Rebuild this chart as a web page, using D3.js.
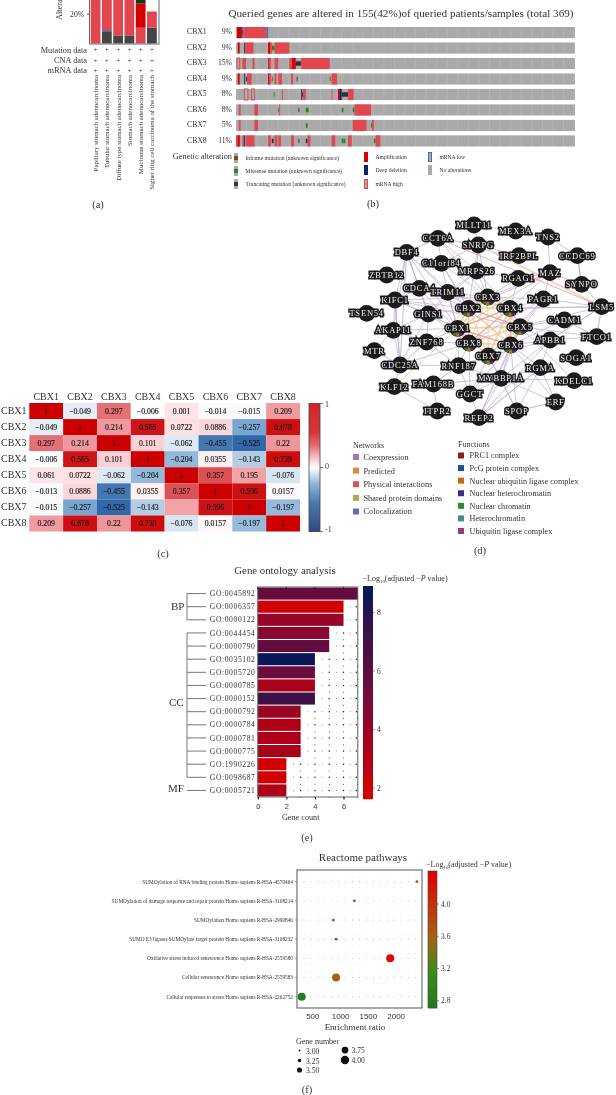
<!DOCTYPE html>
<html>
<head>
<meta charset="utf-8">
<script src="https://cdn.jsdelivr.net/npm/d3@7"></script>
<style>
	html, body { margin: 0; padding: 0; background: #fff; overflow: hidden; }
	svg { display: block; font-family: "Liberation Serif", serif; filter: blur(0.3px); }
	text { fill: #333; }
</style>
</head>
<body>
<svg id="fig" width="616" height="1095"></svg>
<script>
// (a) cancer types, stacked alteration frequency
var cancerTypes = ["Papillary stomach adenocarcinoma", "Tubular stomach adenocarcinoma", "Diffuse type stomach adenocarcinoma", "Stomach adenocarcinoma", "Mucinous stomach adenocarcinoma", "Signet ring cell carcinoma of the stomach"];
var dataRows = ["Mutation data", "CNA data", "mRNA data"];
var stackTypes = ["mutation", "deep", "high", "amp", "missense"];
var stackMutation = [0, 8, 5.5, 5.5, 0, 10.7];
var stackDeep = [0, 1, 0, 0, 0, 0];
var stackHigh = [30, 21, 24.5, 24.5, 10.7, 11];
var stackAmp = [0, 0, 0, 0, 16.5, 0];
var stackMissense = [0, 0, 0, 0, 3, 0];

// (b) oncoprint, segments are [type, first sample, last sample]
var genes = ["CBX1", "CBX2", "CBX3", "CBX4", "CBX5", "CBX6", "CBX7", "CBX8"];
var genePct = ["9%", "9%", "15%", "9%", "8%", "8%", "5%", "11%"];
var totalSamples = 369;
var printSegments = [
	[["amp",1,6],["deep",6,7],["trunc",7,8],["high",8,33],["low",33,35]],
	[["amp",2,4],["deep",9,10],["high",10,19],["high",35,39],["amp",35,37],["miss",39,42],["high",42,58]],
	[["edge",1,4],["high",7,11],["high",18,20],["amp",35,36],["high",36,38],["high",42,46],["high",58,61],["amp",61,65],["trunc",65,71],["high",71,102]],
	[["amp",2,4],["deep",9,10],["trunc",11,12],["high",12,17],["high",35,38],["amp",35,36],["miss",39,40],["high",42,44],["high",46,50],["high",60,62],["trunc",66,67],["miss",102,103],["high",104,110]],
	[["edge",9,13],["edge",17,20],["miss",41,42],["high",50,51],["deep",71,72],["trunc",72,73],["high",73,76],["high",104,105],["amp",111,113],["deep",113,115],["trunc",115,122],["high",122,128]],
	[["high",3,5],["high",20,24],["miss",46,47],["high",47,48],["trunc",68,69],["miss",76,79],["miss",115,117],["miss",127,129],["high",129,147]],
	[["high",3,5],["high",20,24],["miss",76,78],["high",127,142],["miss",147,148],["high",148,150]],
	[["high",0,4],["amp",2,4],["high",7,9],["deep",9,10],["high",11,20],["high",35,38],["trunc",39,41],["high",42,45],["high",46,49],["high",60,63],["trunc",68,69],["trunc",76,78],["high",78,81],["high",104,108],["miss",115,117],["miss",117,119],["high",122,126],["miss",150,152],["high",152,157]]
];
var alterKeys = ["inframe", "miss", "trunc", "amp", "deep", "high", "low", "none"];
var alterLabels = ["Inframe mutation (unknown significance)", "Missense mutation (unknown significance)", "Truncating mutation (unknown significance)", "Amplification", "Deep deletion", "mRNA high", "mRNA low", "No alterations"];

// (c) correlation matrix, fill value and printed label kept apart
var corrValues = [
	[1, -0.049, 0.297, -0.006, 0.061, -0.014, -0.015, 0.209],
	[-0.049, 1, 0.214, 0.565, 0.0722, 0.0886, -0.257, 0.678],
	[0.297, 0.214, 1, 0.101, -0.062, -0.455, -0.525, 0.22],
	[-0.006, 0.565, 0.101, 1, -0.204, 0.0355, -0.143, 0.739],
	[0.061, 0.0722, -0.062, -0.204, 1, 0.357, 0.195, -0.076],
	[-0.013, 0.0886, -0.455, 0.0355, 0.357, 1, 0.596, 0.0157],
	[-0.015, -0.257, -0.525, -0.143, 0.195, 0.596, 1, -0.197],
	[0.209, 0.678, 0.22, 0.739, -0.076, 0.0157, -0.197, 1]
];
var corrLabels = [
	["1", "−0.049", "0.297", "−0.006", "0.001", "−0.014", "−0.015", "0.209"],
	["−0.049", "1", "0.214", "0.565", "0.0722", "0.0886", "−0.257", "0.678"],
	["0.297", "0.214", "1", "0.101", "−0.062", "−0.455", "−0.525", "0.22"],
	["−0.006", "0.565", "0.101", "1", "−0.204", "0.0355", "−0.143", "0.739"],
	["0.061", "0.0722", "−0.062", "−0.204", "1", "0.357", "0.195", "−0.076"],
	["−0.013", "0.0886", "−0.455", "0.0355", "0.357", "1", "0.596", "0.0157"],
	["−0.015", "−0.257", "−0.525", "−0.143", "", "0.596", "1", "−0.197"],
	["0.209", "0.678", "0.22", "0.739", "−0.076", "0.0157", "−0.197", "1"]
];

// (d) network, layout units are whatever the layout gave
var netNames = ["MLLT11","MEX3A","TNS2","CCT6A","SNRPG","IRF2BPL","CCDC69","DBF4","C11orf84","MRPS26","MAZ","ZBTB12","RGAG1","SYNPO","CDCA4","TRIM11","CBX3","PAGR1","KIFC1","LSM5","CBX2","CBX4","GINS1","TSEN54","CADM1","CBX5","CBX1","AKAP11","ZNF768","FTCO1","APBB1","CBX8","CBX6","MTR","SOGA1","CBX7","CDC25A","RNF187","RGMA","MYBBP1A","KDELC1","KLF12","FAM168B","GGCT","ERF","ITPR2","SPOP","REEP2"];
var netX = [522,647,744,414,535,657,832,320,424,530,750,260,655,845,358,443,563,730,285,905,505,630,385,200,793,660,473,280,380,890,750,507,632,223,828,565,300,476,721,603,822,283,400,510,767,412,650,537];
var netY = [30,48,66,70,90,122,122,112,145,168,173,180,190,208,220,232,246,252,255,275,280,280,297,295,315,335,340,346,381,365,375,384,390,407,428,423,450,452,458,490,497,515,507,537,561,588,588,608];
var coexpEdges = ["MLLT11-SNRPG","MLLT11-MEX3A","MEX3A-TNS2","TNS2-MAZ","TNS2-CCDC69","CCT6A-DBF4","CCT6A-SNRPG","CCT6A-C11orf84","CCT6A-MRPS26","CCT6A-CBX3","SNRPG-MRPS26","SNRPG-IRF2BPL","SNRPG-C11orf84","SNRPG-CBX2","DBF4-C11orf84","DBF4-CDCA4","DBF4-KIFC1","DBF4-GINS1","DBF4-TRIM11","DBF4-AKAP11","DBF4-CBX1","C11orf84-MRPS26","C11orf84-TRIM11","C11orf84-CBX2","C11orf84-CBX3","MRPS26-CBX3","MRPS26-CBX4","MRPS26-RGAG1","MRPS26-TRIM11","MRPS26-GINS1","MAZ-CBX4","MAZ-RGAG1","MAZ-SYNPO","MAZ-PAGR1","MAZ-CBX3","SYNPO-LSM5","SYNPO-CCDC69","RGAG1-CBX4","RGAG1-CBX3","CDCA4-TRIM11","CDCA4-GINS1","CDCA4-KIFC1","CDCA4-CBX2","TRIM11-CBX2","TRIM11-CBX1","TRIM11-GINS1","KIFC1-GINS1","KIFC1-CBX2","KIFC1-CDC25A","KIFC1-AKAP11","KIFC1-CBX3","GINS1-CBX1","GINS1-CBX2","GINS1-AKAP11","GINS1-CDC25A","GINS1-ZNF768","GINS1-CBX8","PAGR1-CBX4","PAGR1-CBX5","PAGR1-LSM5","PAGR1-CBX3","LSM5-CBX4","LSM5-CBX5","LSM5-APBB1","CADM1-CBX5","CADM1-CBX6","FTCO1-APBB1","FTCO1-CBX5","APBB1-CBX6","APBB1-CBX5","APBB1-RGMA","APBB1-MYBBP1A","AKAP11-CBX1","AKAP11-ZNF768","AKAP11-CDC25A","ZNF768-CBX1","ZNF768-CBX8","ZNF768-RNF187","ZNF768-CDC25A","MTR-CDC25A","MTR-AKAP11","CDC25A-RNF187","CDC25A-CBX8","CDC25A-KLF12","RNF187-CBX8","RNF187-CBX7","RNF187-GGCT","RNF187-MYBBP1A","RNF187-FAM168B","FAM168B-ITPR2","FAM168B-MYBBP1A","FAM168B-GGCT","KLF12-FAM168B","KLF12-ITPR2","MYBBP1A-CBX7","MYBBP1A-CBX6","MYBBP1A-GGCT","MYBBP1A-REEP2","MYBBP1A-SPOP","MYBBP1A-RGMA","MYBBP1A-ERF","MYBBP1A-KDELC1","RGMA-CBX6","RGMA-ERF","RGMA-REEP2","GGCT-REEP2","GGCT-CBX7","GGCT-CBX8","REEP2-CBX6","REEP2-APBB1","REEP2-RGMA","SPOP-CBX6","SPOP-CBX7","SPOP-RGMA","ERF-CBX6","KDELC1-CBX5","CBX1-MAZ","CBX2-MAZ","CBX8-PAGR1","CBX7-PAGR1","CBX6-PAGR1","CBX7-APBB1","CBX1-KIFC1","CBX2-DBF4","CBX4-LSM5","CBX3-TRIM11","CBX8-CDCA4","MYBBP1A-CBX5","REEP2-CBX5","GGCT-CBX6","RNF187-CBX1","CBX4-CDCA4","CBX5-KIFC1","APBB1-LSM5"];
var predictedEdges = ["SNRPG-LSM5","CBX1-CBX2","CBX1-CBX3","CBX1-CBX4","CBX1-CBX5","CBX1-CBX6","CBX1-CBX7","CBX1-CBX8","CBX2-CBX3","CBX2-CBX4","CBX2-CBX5","CBX2-CBX6","CBX2-CBX8","CBX3-CBX4","CBX3-CBX5","CBX4-CBX5","CBX4-CBX6","CBX4-CBX8","CBX5-CBX6","CBX5-CBX8","CBX6-CBX8","CBX7-CBX5","CBX7-CBX4"];
var physicalEdges = ["CCT6A-LSM5","SPOP-ERF","CBX1-CBX4","CBX2-CBX5","CBX8-CBX4","CBX6-CBX1","CADM1-FTCO1"];
var sharedEdges = ["KLF12-CBX1","CDC25A-CBX2","CBX7-CBX3","CBX7-CBX2","CBX8-CBX3","CBX6-CBX3","CBX1-MAZ"];
var colocEdges = ["DBF4-CDC25A","KIFC1-CDC25A","SNRPG-CBX3","LSM5-FTCO1","DBF4-GINS1","C11orf84-CBX2","SYNPO-CCDC69","TRIM11-CBX1"];
var cbxNames = ["CBX1","CBX2","CBX3","CBX4","CBX5","CBX6","CBX7","CBX8"];
var netLegendLabels = ["Coexpression", "Predicted", "Physical interactions", "Shared protein domains", "Colocalization"];
var funcLabels = ["PRC1 complex", "PcG protein complex", "Nuclear ubiquitin ligase complex", "Nuclear heterochromatin", "Nuclear chromatin", "Heterochromatin", "Ubiquitin ligase complex"];

// (e) gene ontology
var goTerms = ["GO:0045892","GO:0006357","GO:0000122","GO:0044454","GO:0000790","GO:0035102","GO:0005720","GO:0000785","GO:0000152","GO:0000792","GO:0000784","GO:0000781","GO:0000775","GO:1990226","GO:0098687","GO:0005721"];
var goCounts = [7,6,6,5,5,4,4,4,4,3,3,3,3,2,2,2];
var goLogP = [5.8,1.9,3.9,4.4,5.8,8.7,5.6,3.2,7.2,3.8,3,3,3.3,1.8,1.8,3];
var goTicks = [0,2,4,6];
var goBarTicks = [2,4,6,8];

// (f) reactome
var pathways = ["SUMOylation of RNA binding protein Homo sapiens R-HSA-4570464","SUMOylation of damage response and repair protein Homo sapiens R-HSA-3108214","SUMOylation Homo sapiens R-HSA-2990846","SUMO E3 ligases SUMOylate target protein Homo sapiens R-HSA-3108232","Oxidative stress induced senescence Homo sapiens R-HSA-2559580","Cellular senescence Homo sapiens R-HSA-2559583","Cellular responses to stress Homo sapiens R-HSA-2262752"];
var pathRatio = [2385,1258,880,928,1902,928,309];
var pathLogP = [3.55,3.0,3.0,3.0,4.35,3.6,2.8];
var pathGenes = [3,3,3,3,4,4,4];
var ratioTicks = [500,1000,1500,2000];
var pathBarTicks = [2.8,3.2,3.6,4.0];
var geneLegend = [3,3.25,3.5,3.75,4];

var alterColor = {
	high: "#e2474f", amp: "#d40000", deep: "#0b1f6b", low: "#4d6fa3",
	miss: "#1f8a1f", trunc: "#2c3444", inframe: "#7a4a12", none: "#a9a9a9",
	mutation: "#454545", missense: "#0c3d12"
};

var svg = d3.select("#fig");

function label(g, x, y, str, size, anchor) {
	return g.append("text")
		.attr("x", x)
		.attr("y", y)
		.attr("dy", "0.35em")
		.attr("font-size", size)
		.attr("text-anchor", anchor || "start")
		.text(str);
}

function logPTitle(g, x, y, size) {
	var tt = g.append("text").attr("x", x).attr("y", y).attr("font-size", size);
	tt.append("tspan").text("−Log");
	tt.append("tspan").attr("font-size", size * 0.62).attr("dy", 1.5).text("10");
	tt.append("tspan").attr("dy", -1.5).text("(adjusted −");
	tt.append("tspan").attr("font-style", "italic").text("P");
	tt.append("tspan").text(" value)");
}

function drawA() {
	var g = svg.append("g");
	var x = d3.scaleBand().domain(d3.range(cancerTypes.length)).range([90, 157.5]).paddingInner(0.13).paddingOuter(0.06);
	var y = d3.scaleLinear().domain([0, 20]).range([43.5, 14]);
	var rows = cancerTypes.map(function(c, i){
		return {mutation: stackMutation[i], deep: stackDeep[i], high: stackHigh[i], amp: stackAmp[i], missense: stackMissense[i]};
	});
	var series = d3.stack().keys(stackTypes)(rows);
	series.forEach(function(s){
		g.selectAll(null).data(s).enter().append("rect")
			.attr("x", function(d, i){ return x(i); })
			.attr("width", x.bandwidth())
			.attr("y", function(d){ return y(d[1]); })
			.attr("height", function(d){ return y(d[0]) - y(d[1]); })
			.attr("fill", s.key == "deep" ? "#1d4c8c" : alterColor[s.key]);
	});
	g.append("rect").attr("x", 89.5).attr("y", -3).attr("width", 69.5).attr("height", 47)
		.attr("fill", "none").attr("stroke", "#666").attr("stroke-width", 1);
	g.append("line").attr("x1", 87).attr("x2", 89.5).attr("y1", y(20)).attr("y2", y(20)).attr("stroke", "#555");
	label(g, 84, y(20), "20%", 7.6, "end");
	g.append("text").attr("transform", "translate(62,20) rotate(-90)").attr("font-size", 8.3).text("Altera");
	dataRows.forEach(function(r, i){
		var yy = 50 + i * 10.2;
		label(g, 87, yy, r, 8.3, "end");
		cancerTypes.forEach(function(c, j){
			label(g, x(j) + x.bandwidth() / 2, yy, "+", 7, "middle");
		});
	});
	cancerTypes.forEach(function(c, j){
		g.append("text")
			.attr("transform", "translate(" + (x(j) + x.bandwidth() / 2) + ",75) rotate(-90)")
			.attr("dy", "0.35em")
			.attr("text-anchor", "end")
			.attr("font-size", 6.9)
			.text(c);
	});
	label(g, 98, 204, "(a)", 10.5, "middle");
}

function drawB() {
	var g = svg.append("g");
	var x = d3.scaleLinear().domain([0, totalSamples]).range([236, 575]);
	var y = d3.scaleBand().domain(genes).range([27, 146.5]).paddingInner(0.28).paddingOuter(0);
	label(g, 401, 13, "Queried genes are altered in 155(42%)of queried patients/samples (total 369)", 11.2, "middle");
	genes.forEach(function(gene, i){
		label(g, 187, y(gene) + y.bandwidth() / 2 - 1, gene, 7.7);
		label(g, 232, y(gene) + y.bandwidth() / 2 - 1, genePct[i], 7.7, "end");
		g.append("rect").attr("x", x(0)).attr("y", y(gene)).attr("width", x(totalSamples) - x(0)).attr("height", y.bandwidth()).attr("fill", alterColor.none);
		// faint cell lines of the original
		d3.range(0, totalSamples, 11.5).forEach(function(s){
			g.append("line").attr("x1", x(s)).attr("x2", x(s)).attr("y1", y(gene)).attr("y2", y(gene) + y.bandwidth()).attr("stroke", "#fff").attr("stroke-opacity", 0.25).attr("stroke-width", 0.5);
		});
		printSegments[i].forEach(function(seg){
			var thin = seg[0] == "miss" || seg[0] == "trunc";
			var h = thin ? y.bandwidth() * 0.4 : y.bandwidth();
			var r = g.append("rect")
				.attr("x", x(seg[1]))
				.attr("width", x(seg[2]) - x(seg[1]))
				.attr("y", y(gene) + (y.bandwidth() - h) / 2)
				.attr("height", h);
			if (seg[0] == "edge") {
				r.attr("fill", "none").attr("stroke", alterColor.high).attr("stroke-width", 0.9);
			} else {
				r.attr("fill", alterColor[seg[0]]);
			}
		});
	});
	// legend
	var pos = [[236,158],[236,171],[236,184],[366,157],[366,170],[366,184],[430,157],[430,170]];
	label(g, 232, 156, "Genetic alteration", 8.3, "end");
	alterKeys.forEach(function(k, i){
		var p = pos[i];
		g.append("rect").attr("x", p[0] - 2).attr("y", p[1] - 5).attr("width", 4).attr("height", 10).attr("fill", k == "high" || k == "low" || k == "none" || k == "amp" || k == "deep" ? alterColor[k] : alterColor.none);
		if (k == "high" || k == "low") {
			g.append("rect").attr("x", p[0] - 1).attr("y", p[1] - 4).attr("width", 2).attr("height", 8).attr("fill", alterColor.none);
		}
		if (k == "inframe" || k == "miss" || k == "trunc") {
			g.append("rect").attr("x", p[0] - 2).attr("y", p[1] - 2).attr("width", 4).attr("height", 4).attr("fill", alterColor[k]);
		}
		label(g, p[0] + 9.5, p[1], alterLabels[i], 5.6);
	});
	label(g, 373, 203, "(b)", 10.5, "middle");
}

function corrColor(v) {
	var c = d3.scaleLinear()
		.domain([-1, -0.55, -0.25, 0, 0.1, 0.21, 0.36, 0.56, 1])
		.range(["#0b2a6e", "#2a62a5", "#7ba8d2", "#ffffff", "#fbd2d6", "#ef9a9f", "#dc4f55", "#cd1418", "#cc0000"]);
	return c(v);
}

function drawC() {
	var g = svg.append("g");
	var x = d3.scaleBand().domain(genes).range([29.3, 300]);
	var y = d3.scaleBand().domain(genes).range([403, 531.5]);
	genes.forEach(function(gene, i){
		label(g, x(gene) + x.bandwidth() / 2, 396, gene, 10, "middle");
		label(g, 1, y(gene) + y.bandwidth() / 2 - 1, gene, 10);
	});
	corrValues.forEach(function(row, r){
		row.forEach(function(v, c){
			g.append("rect").attr("x", x(genes[c])).attr("y", y(genes[r])).attr("width", x.bandwidth()).attr("height", y.bandwidth()).attr("fill", corrColor(v));
		});
	});
	corrLabels.forEach(function(row, r){
		row.forEach(function(s, c){
			label(g, x(genes[c]) + x.bandwidth() / 2, y(genes[r]) + y.bandwidth() / 2, s, 7.8, "middle")
				.style("fill", "#1a1a1a").attr("stroke", "#1a1a1a").attr("stroke-width", 0.15);
		});
	});
	// color bar
	var by = d3.scaleLinear().domain([1, -1]).range([403.5, 531.5]);
	d3.range(0, 128).forEach(function(i){
		g.append("rect").attr("x", 309).attr("y", 403.5 + i).attr("width", 11).attr("height", 1.2).attr("fill", corrColor(by.invert(403.5 + i)));
	});
	g.append("rect").attr("x", 309).attr("y", 403.5).attr("width", 11).attr("height", 128).attr("fill", "none").attr("stroke", "#444").attr("stroke-width", 0.8);
	[1, 0, -1].forEach(function(t){
		g.append("line").attr("x1", 320).attr("x2", 323).attr("y1", by(t)).attr("y2", by(t)).attr("stroke", "#444").attr("stroke-width", 0.7);
		label(g, 325, by(t) + (t == -1 ? -2 : t == 1 ? 1 : -1), String(t), 8);
	});
	label(g, 163, 553, "(c)", 10.5, "middle");
}

function drawD() {
	var g = svg.append("g");
	var x = d3.scaleLinear().domain([0, 948]).range([300, 616]);
	var y = d3.scaleLinear().domain([0, 630]).range([215, 425]);
	var nx = function(i){ return x(netX[i]); };
	var ny = function(i){ return y(netY[i]); };
	var edges = function(list, color, w, op) {
		list.forEach(function(e){
			var p = e.split("-");
			var a = netNames.indexOf(p[0]), b = netNames.indexOf(p[1]);
			g.append("line").attr("x1", nx(a)).attr("y1", ny(a)).attr("x2", nx(b)).attr("y2", ny(b))
				.attr("stroke", color).attr("stroke-width", w).attr("stroke-opacity", op);
		});
	};
	edges(colocEdges, "#a6b4e4", 1, 0.9);
	edges(coexpEdges, "#c5abd8", 1, 0.75);
	edges(sharedEdges, "#dcdc9a", 1, 0.9);
	edges(predictedEdges, "#eeb98c", 2, 0.6);
	edges(physicalEdges, "#e79a9a", 1, 0.8);

	var sliceColor = d3.scaleOrdinal().domain(d3.range(3)).range(["#3f2c80", "#c46a12", "#1f7a33"]);
	var arc = d3.arc().innerRadius(0).outerRadius(8.4);
	netNames.forEach(function(n, i){
		g.append("circle").attr("cx", nx(i)).attr("cy", ny(i)).attr("r", 8.4).attr("fill", "#1c1c1c");
		if (cbxNames.indexOf(n) >= 0) {
			// slices of the functions on the CBX nodes
			[0, 1, 2].forEach(function(s){
				g.append("path")
					.attr("transform", "translate(" + nx(i) + "," + ny(i) + ")")
					.attr("d", arc({startAngle: 2.4 + s * 0.5, endAngle: 2.9 + s * 0.5}))
					.attr("fill", sliceColor(s));
			});
		}
	});
	netNames.forEach(function(n, i){
		g.append("text")
			.attr("x", nx(i)).attr("y", ny(i)).attr("dy", "0.35em")
			.attr("text-anchor", "middle").attr("font-size", 8.5)
			.attr("letter-spacing", 0.8)
			.attr("stroke", "#1a1a1a").attr("stroke-width", 3).attr("paint-order", "stroke")
			.style("fill", "#f2f2f2")
			.text(n);
	});

	// legends
	label(g, 353, 445, "Networks", 8);
	var netCols = ["#9e79b5", "#e08b3a", "#d2555e", "#b0a850", "#5473b8"];
	var netLeg = d3.scalePoint().domain(d3.range(5)).range([457, 511.5]);
	netLegendLabels.forEach(function(s, i){
		g.append("rect").attr("x", 353).attr("y", netLeg(i) - 3).attr("width", 6).attr("height", 6).attr("fill", netCols[i]);
		label(g, 363.5, netLeg(i), s, 8.3);
	});
	label(g, 458, 444, "Functions", 8);
	var fnCols = ["#8c1c22", "#1d4f8c", "#c76a14", "#3f2c80", "#2a8a3a", "#3f8f85", "#9c3a86"];
	var fnLeg = d3.scalePoint().domain(d3.range(7)).range([455.5, 531]);
	funcLabels.forEach(function(s, i){
		g.append("rect").attr("x", 458).attr("y", fnLeg(i) - 3).attr("width", 6).attr("height", 6).attr("fill", fnCols[i]);
		label(g, 469.5, fnLeg(i), s, 8.2);
	});
	label(g, 480, 550, "(d)", 10.5, "middle");
}

function drawE() {
	var g = svg.append("g");
	var x = d3.scaleLinear().domain([0, 7]).range([257.8, 357.8]);
	var y = d3.scaleBand().domain(goTerms).range([587, 797]).paddingInner(0.08).paddingOuter(0.04);
	var color = d3.scaleLinear().domain([1.63, 3, 5, 7, 8.9]).range(["#d80000", "#b00015", "#7a0a3a", "#451045", "#03195e"]);

	label(g, 285, 570, "Gene ontology analysis", 10.8, "middle");
	// stray dots of the background grid
	goTerms.forEach(function(t, i){
		d3.range(goCounts[i] + 1, 8).forEach(function(c){
			g.append("circle").attr("cx", x(Math.min(c, 6.9))).attr("cy", y(t) + y.bandwidth() / 2).attr("r", 0.7).attr("fill", "#111");
		});
		d3.range(goCounts[i], 7).forEach(function(c){
			g.append("circle").attr("cx", x(c + 0.5)).attr("cy", y(t) + y.bandwidth() / 2).attr("r", 0.45).attr("fill", "#333");
			g.append("circle").attr("cx", x(c + 1)).attr("cy", y(t) + y.step() * 0.98).attr("r", 0.5).attr("fill", "#333");
		});
	});
	g.selectAll(null).data(goTerms).enter().append("rect")
		.attr("x", x(0))
		.attr("y", function(d){ return y(d); })
		.attr("height", y.bandwidth())
		.attr("width", function(d, i){ return x(goCounts[i]) - x(0); })
		.attr("fill", function(d, i){ return color(goLogP[i]); });
	g.append("rect").attr("x", x(0)).attr("y", 587).attr("width", 100).attr("height", 210).attr("fill", "none").attr("stroke", "#555").attr("stroke-width", 0.9);
	goTicks.forEach(function(t){
		g.append("line").attr("x1", x(t)).attr("x2", x(t)).attr("y1", 587).attr("y2", 589).attr("stroke", "#111").attr("stroke-width", 0.7);
	});

	var axis = d3.axisBottom(x).tickValues(goTicks).tickSize(2.5).tickFormat(d3.format("d"));
	var ax = g.append("g").attr("transform", "translate(0,797)").call(axis);
	ax.select(".domain").remove();
	ax.selectAll("text").attr("font-size", 7.5).attr("font-family", "inherit").attr("dy", "0.8em");
	label(g, 300.7, 817, "Gene count", 8.2, "middle");

	goTerms.forEach(function(t, i){
		var cy = y(t) + y.bandwidth() / 2;
		label(g, 255.5, cy, t, 7.6, "end").attr("letter-spacing", 0.6);
		g.append("line").attr("x1", 187).attr("x2", 206).attr("y1", cy).attr("y2", cy).attr("stroke", "#666").attr("stroke-width", 0.9);
	});
	var mid = function(i){ return y(goTerms[i]) + y.bandwidth() / 2; };
	g.append("line").attr("x1", 187).attr("x2", 187).attr("y1", mid(0)).attr("y2", mid(2)).attr("stroke", "#666").attr("stroke-width", 0.9);
	g.append("line").attr("x1", 187).attr("x2", 187).attr("y1", mid(3)).attr("y2", mid(14)).attr("stroke", "#666").attr("stroke-width", 0.9);
	label(g, 171, 606, "BP", 11);
	label(g, 169, 702, "CC", 11);
	label(g, 168, 788.5, "MF", 11);

	// color bar
	var by = d3.scaleLinear().domain([8.9, 1.63]).range([586, 799]);
	d3.range(586, 799).forEach(function(p){
		g.append("rect").attr("x", 363).attr("y", p).attr("width", 10).attr("height", 1.2).attr("fill", color(by.invert(p)));
	});
	goBarTicks.forEach(function(t){
		g.append("line").attr("x1", 373).attr("x2", 375).attr("y1", by(t)).attr("y2", by(t)).attr("stroke", "#555").attr("stroke-width", 0.6);
		label(g, 377, by(t), String(t), 7.5);
	});
	logPTitle(g, 362.5, 581, 8);
	label(g, 307, 837, "(e)", 10.5, "middle");
}

function drawF() {
	var g = svg.append("g");
	var x = d3.scaleLinear().domain([224, 2475]).range([297, 422]);
	var y = d3.scalePoint().domain(pathways).range([881.7, 996.7]);
	var color = d3.scaleLinear().domain([2.71, 3.2, 3.6, 4.41]).range(["#1f7a1f", "#3f8a1a", "#a8600f", "#e00000"]);
	var size = d3.scaleLinear().domain([3, 4]).range([1.4, 4]);

	label(g, 363, 857, "Reactome pathways", 11, "middle");
	// faint grid of empty dots
	d3.range(7).forEach(function(i){
		d3.range(350, 2450, 125).forEach(function(r){
			g.append("circle").attr("cx", x(r)).attr("cy", y(pathways[i])).attr("r", 0.45).attr("fill", "#777");
			if (i < 6) {
				g.append("circle").attr("cx", x(r)).attr("cy", y(pathways[i]) + y.step() * 0.3).attr("r", 0.3).attr("fill", "#aaa");
			}
			g.append("circle").attr("cx", x(r)).attr("cy", y(pathways[i]) - y.step() * 0.25).attr("r", 0.3).attr("fill", "#aaa");
		});
	});
	pathways.forEach(function(p, i){
		label(g, 293, y(p), p, 5.3, "end");
		g.append("line").attr("x1", 295).attr("x2", 297).attr("y1", y(p)).attr("y2", y(p)).attr("stroke", "#555").attr("stroke-width", 0.5);
	});
	g.selectAll(null).data(pathways).enter().append("circle")
		.attr("cx", function(d, i){ return x(pathRatio[i]); })
		.attr("cy", function(d){ return y(d); })
		.attr("r", function(d, i){ return size(pathGenes[i]); })
		.attr("fill", function(d, i){ return color(pathLogP[i]); });
	g.append("rect").attr("x", 297).attr("y", 870).attr("width", 125).attr("height", 138).attr("fill", "none").attr("stroke", "#555").attr("stroke-width", 1);

	var axis = d3.axisBottom(x).tickValues(ratioTicks).tickSize(0).tickFormat(d3.format("d"));
	var ax = g.append("g").attr("transform", "translate(0,1008)").call(axis);
	ax.select(".domain").remove();
	ax.selectAll("text").attr("font-size", 8).attr("font-family", "inherit").attr("dy", "1em");
	label(g, 355, 1027, "Enrichment ratio", 9, "middle");

	// color bar
	var by = d3.scaleLinear().domain([4.41, 2.71]).range([871, 1008]);
	d3.range(871, 1008).forEach(function(p){
		g.append("rect").attr("x", 428).attr("y", p).attr("width", 9).attr("height", 1.2).attr("fill", color(by.invert(p)));
	});
	g.append("rect").attr("x", 428).attr("y", 871).attr("width", 9).attr("height", 137).attr("fill", "none").attr("stroke", "#444").attr("stroke-width", 0.6);
	pathBarTicks.forEach(function(t){
		g.append("line").attr("x1", 437).attr("x2", 439).attr("y1", by(t)).attr("y2", by(t)).attr("stroke", "#555").attr("stroke-width", 0.6);
		label(g, 441, by(t), t.toFixed(1), 7.5);
	});
	logPTitle(g, 426, 867, 8);

	// gene number legend
	label(g, 296, 1041, "Gene number", 8);
	var legX = [299.5, 299.5, 299.5, 345, 345];
	var legY = [1050.5, 1060.5, 1070, 1050, 1060];
	var legR = d3.scaleLinear().domain([3, 4]).range([0.9, 4.2]);
	geneLegend.forEach(function(v, i){
		g.append("circle").attr("cx", legX[i]).attr("cy", legY[i]).attr("r", legR(v)).attr("fill", "#111");
		label(g, legX[i] + 6.5, legY[i] + 0.5, v.toFixed(2), 7.6);
	});
	label(g, 307, 1089, "(f)", 10.5, "middle");
}

drawA();
drawB();
drawC();
drawD();
drawE();
drawF();
</script>
</body>
</html>
